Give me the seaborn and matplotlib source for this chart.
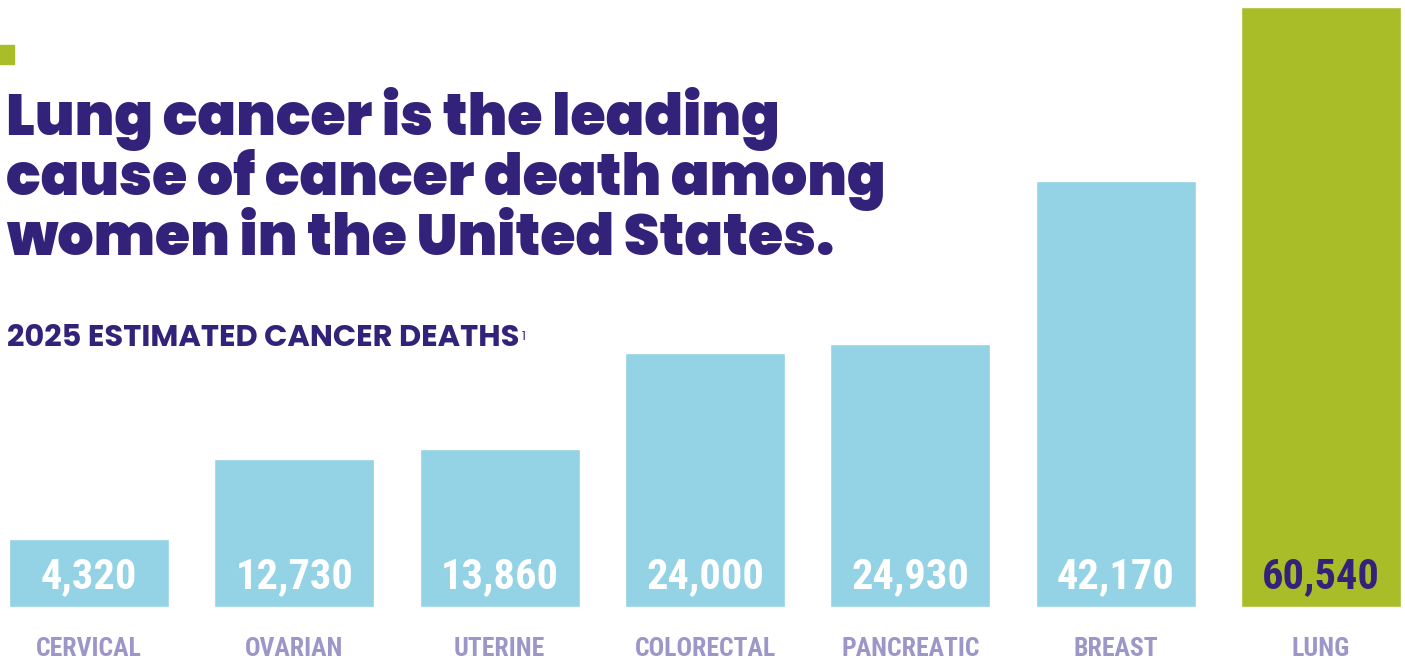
import numpy as np
import pandas as pd
import seaborn as sns
import matplotlib.pyplot as plt
from matplotlib.patches import Rectangle
from matplotlib import transforms

cancers = ["CERVICAL", "OVARIAN", "UTERINE", "COLORECTAL", "PANCREATIC", "BREAST", "LUNG"]
deaths = [4320, 12730, 13860, 24000, 24930, 42170, 60540]
value_labels = ["4,320", "12,730", "13,860", "24,000", "24,930", "42,170", "60,540"]

PURPLE = "#33227a"
LABEL_PURPLE = "#9d96c8"
BLUE = "#93d3e5"
GREEN = "#a9bd28"

HEAD_FONT = ["Poppins", "Open Sans", "DejaVu Sans"]
COND_FONT = ["Roboto Condensed", "DejaVu Sans"]

sns.set_theme(style="white")
plt.rcParams["font.family"] = HEAD_FONT

df = pd.DataFrame({"cancer": cancers, "deaths": deaths})
palette = [GREEN if c == "LUNG" else BLUE for c in cancers]

fig = plt.figure(figsize=(14.05, 6.66), dpi=100)
ax = fig.add_axes([9 / 1405, 59 / 666, 1392 / 1405, 600 / 666])

sns.barplot(data=df, x="cancer", y="deaths", hue="cancer", palette=palette,
            width=0.78, legend=False, saturation=1, ax=ax)

# bars in the original start a little below zero so small ones stay readable
floor = 2860
for p in ax.patches:
    p.set_y(-floor)
    p.set_height(p.get_height() + floor)

ax.set_xlim(-0.39, 6.39)
ax.set_ylim(-floor, max(deaths))
ax.set_xlabel("")
ax.set_ylabel("")
ax.set_yticks([])
ax.set_xticks([])
sns.despine(ax=ax, left=True, bottom=True)

trans = transforms.blended_transform_factory(ax.transData, fig.transFigure)
for i, txt in enumerate(value_labels):
    ax.text(i, (666 - 588) / 666, txt, transform=trans, ha="center", va="baseline",
            fontsize=30.5, fontweight="bold", family=COND_FONT,
            color=PURPLE if cancers[i] == "LUNG" else "white")
    ax.text(i, (666 - 656) / 666, cancers[i], transform=trans, ha="center", va="baseline",
            fontsize=18.5, fontweight="bold", family=COND_FONT, color=LABEL_PURPLE)

# title block
fig.patches.append(Rectangle((0, 1 - 64 / 666), 14 / 1405, 19 / 666,
                             transform=fig.transFigure, color=GREEN))
title_lines = ["Lung cancer is the leading",
               "cause of cancer death among",
               "women in the United States."]
for k, line in enumerate(title_lines):
    fig.text(6 / 1405, 1 - (135 + 60 * k) / 666, line, ha="left", va="baseline",
             fontsize=41, fontweight="black", color=PURPLE)

sub = fig.text(7 / 1405, 1 - 346 / 666, "2025 ESTIMATED CANCER DEATHS",
               ha="left", va="baseline", fontsize=22, fontweight="bold", color=PURPLE)
# footnote marker right after the subtitle
ax.annotate("1", xy=(1, 1), xycoords=sub, xytext=(1.5, -5), textcoords="offset points",
            ha="left", va="top", fontsize=9, color=PURPLE, annotation_clip=False)

fig.savefig("out.png", dpi=100)
plt.close(fig)
